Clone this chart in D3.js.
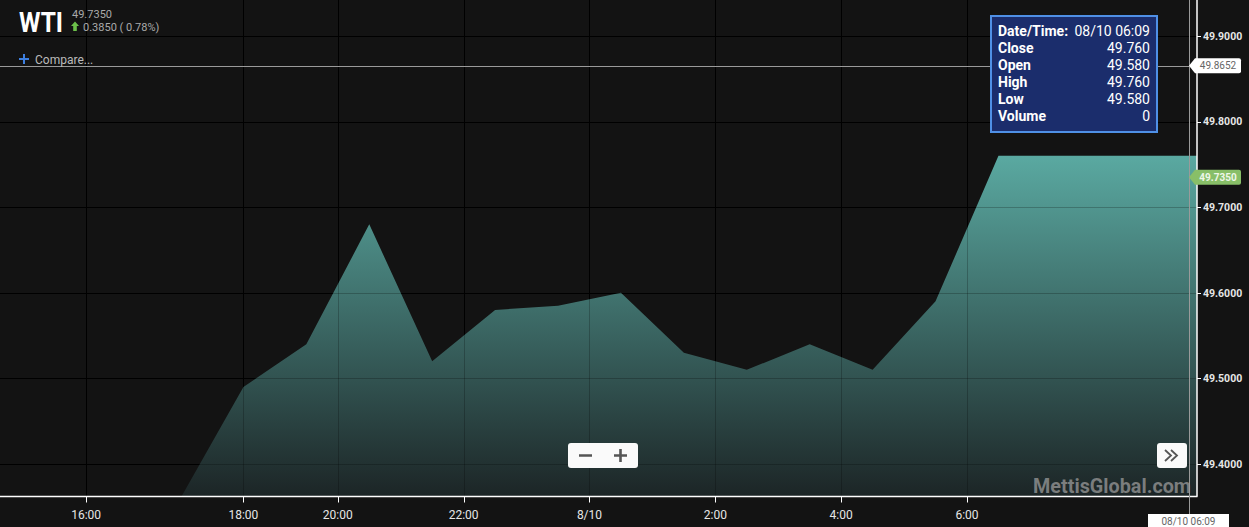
<!DOCTYPE html>
<html><head><meta charset="utf-8">
<script src="https://cdn.jsdelivr.net/npm/d3@7"></script>
<style>
html,body{margin:0;padding:0;background:#131313;}
svg{display:block;font-family:Roboto,"Liberation Sans",sans-serif;}
</style></head>
<body><svg id="c" width="1249" height="527"></svg>
<script>
// ---- data ----
const slots = [0,1,2,3,4,5,6,7,8,9,10,11,12,13,14,15,16,17];
const closeValues = [49.36,49.49,49.54,49.68,49.52,49.58,49.585,49.60,49.53,49.51,49.54,49.51,49.59,49.76,49.76,49.76,49.76,49.76];
const xTickSlots = [-1.5,1,2.5,4.5,6.5,8.5,10.5,12.5];
const xTickLabels = ["16:00","18:00","20:00","22:00","8/10","2:00","4:00","6:00"];
const yTicks = [49.4,49.5,49.6,49.7,49.8,49.9];
const symbol = "WTI";
const lastPrice = 49.7350;
const change = "0.3850 ( 0.78%)";
const crosshairPrice = 49.8652;
const crosshairSlot = 16.03;
const crosshairDate = "08/10 06:09";
const tipLabels = ["Date/Time:","Close","Open","High","Low","Volume"];
const tipValues = ["08/10 06:09","49.760","49.580","49.760","49.580","0"];

// ---- layout ----
const svg = d3.select("#c");
const PW = 1197, PB = 496.5;
const x = d3.scaleLinear().domain([0,1]).range([180.5,243.42]);
const y = d3.scaleLinear().domain([49.4,49.9]).range([464,36]);

const defs = svg.append("defs");
defs.append("clipPath").attr("id","plot").append("rect").attr("x",0).attr("y",0).attr("width",PW).attr("height",PB);
const g = defs.append("linearGradient").attr("id","ag").attr("gradientUnits","userSpaceOnUse")
  .attr("x1",0).attr("x2",0).attr("y1",y(d3.max(closeValues))).attr("y2",PB);
g.append("stop").attr("offset","0").attr("stop-color","#5aa9a1");
g.append("stop").attr("offset","1").attr("stop-color","#1c2526");

function grid(layer, color, op){
  layer.selectAll("line.v").data(xTickSlots).join("line").attr("class","v")
    .attr("x1",d=>Math.round(x(d))+0.5).attr("x2",d=>Math.round(x(d))+0.5).attr("y1",0).attr("y2",PB)
    .attr("stroke",color).attr("stroke-opacity",op);
  layer.selectAll("line.h").data(yTicks).join("line").attr("class","h")
    .attr("y1",d=>Math.round(y(d))+0.5).attr("y2",d=>Math.round(y(d))+0.5).attr("x1",0).attr("x2",PW)
    .attr("stroke",color).attr("stroke-opacity",op);
}
const plot = svg.append("g").attr("clip-path","url(#plot)");
grid(plot.append("g"),"#000",1);
const area = d3.area().x((d,i)=>x(slots[i])).y0(PB).y1(d=>y(d));
plot.append("path").datum(closeValues).attr("d",area).attr("fill","url(#ag)");
grid(plot.append("g"),"#000",0.22);

// watermark
svg.append("text").attr("x",1191).attr("y",493).attr("text-anchor","end")
  .attr("font-size",20).attr("font-weight","bold").attr("fill","#9a9a9a").attr("fill-opacity",0.75)
  .attr("textLength",158).attr("lengthAdjust","spacingAndGlyphs").text("MettisGlobal.com");

// plot border
svg.append("line").attr("x1",0).attr("x2",PW+0.5).attr("y1",PB).attr("y2",PB).attr("stroke","#fff").attr("stroke-width",1.5);
svg.append("line").attr("x1",PW).attr("x2",PW).attr("y1",0).attr("y2",PB).attr("stroke","#fff").attr("stroke-width",1.5);

// x axis
const xa = svg.append("g");
xa.selectAll("line").data(xTickSlots).join("line")
  .attr("x1",d=>Math.round(x(d))+0.5).attr("x2",d=>Math.round(x(d))+0.5).attr("y1",PB).attr("y2",PB+6).attr("stroke","#fff");
xa.selectAll("text").data(xTickSlots).join("text")
  .attr("x",d=>x(d)).attr("y",519).attr("text-anchor","middle").attr("font-size",12).attr("fill","#e6e6e6")
  .text((d,i)=>xTickLabels[i]);

// y axis
const ya = svg.append("g");
ya.selectAll("line").data(yTicks).join("line")
  .attr("x1",PW).attr("x2",PW+4).attr("y1",d=>Math.round(y(d))+0.5).attr("y2",d=>Math.round(y(d))+0.5).attr("stroke","#fff");
ya.selectAll("text").data(yTicks).join("text")
  .attr("x",1203).attr("y",d=>y(d)+3.8).attr("font-size",10.5).attr("font-weight","bold").attr("fill","#e6e6e6")
  .text(d=>d.toFixed(4));

// crosshair
const cx = Math.round(x(crosshairSlot))+0.5, cy = Math.round(y(crosshairPrice))+0.5;
svg.append("line").attr("x1",0).attr("x2",PW).attr("y1",cy).attr("y2",cy).attr("stroke","#9a9a9a");
svg.append("line").attr("x1",cx).attr("x2",cx).attr("y1",0).attr("y2",514).attr("stroke","#9a9a9a");

function priceTag(v, fill, tcolor, bold){
  const yy = y(v);
  svg.append("path").attr("d",`M1189,${yy} L1195,${yy-7.5} H1239 q2,0 2,2 V${yy+5.5} q0,2 -2,2 H1195 Z`).attr("fill",fill);
  svg.append("text").attr("x",1218).attr("y",yy+3.6).attr("text-anchor","middle").attr("font-size",10)
    .attr("font-weight",bold?"bold":"normal").attr("fill",tcolor).text(v.toFixed(4));
}
priceTag(crosshairPrice,"#ffffff","#666",false);
priceTag(lastPrice,"#88bf68","#eef7e8",true);

// date tag
svg.append("rect").attr("x",1148).attr("y",514).attr("width",81).attr("height",14).attr("fill","#fff");
svg.append("text").attr("x",1188.5).attr("y",524.5).attr("text-anchor","middle").attr("font-size",10).attr("fill","#666").text(crosshairDate);

// header
svg.append("text").attr("x",19).attr("y",32).attr("font-size",28).attr("font-weight","bold").attr("fill","#fff")
  .attr("textLength",44).attr("lengthAdjust","spacingAndGlyphs").text(symbol);
svg.append("text").attr("x",72).attr("y",18).attr("font-size",11).attr("fill","#aaa").text(lastPrice.toFixed(4));
svg.append("path").attr("d","M75,21.5 L79,26 H76.8 V31 H73.2 V26 H71 Z").attr("fill","#6cc04a");
svg.append("text").attr("x",83).attr("y",31).attr("font-size",11).attr("fill","#aaa").text(change);
svg.append("path").attr("d","M19,59 H29 M24,54 V64").attr("stroke","#3d7fe0").attr("stroke-width",2);
svg.append("text").attr("x",35).attr("y",63.5).attr("font-size",12).attr("fill","#bbb").text("Compare...");

// tooltip
svg.append("rect").attr("x",991).attr("y",16).attr("width",166).attr("height",116)
  .attr("fill","#1b2d6c").attr("stroke","#4f90e6").attr("stroke-width",2);
const tt = svg.append("g").attr("font-size",14).attr("fill","#fff");
tt.selectAll("text.l").data(tipLabels).join("text").attr("class","l")
  .attr("x",998).attr("y",(d,i)=>36+i*17).attr("font-weight","bold").text(d=>d);
tt.selectAll("text.v").data(tipValues).join("text").attr("class","v")
  .attr("x",1150).attr("y",(d,i)=>36+i*17).attr("text-anchor","end").text(d=>d);

// buttons
svg.append("rect").attr("x",568).attr("y",443).attr("width",70).attr("height",25).attr("rx",3).attr("fill","#fafafa");
svg.append("path").attr("d","M579,455.5 H592 M614,455.5 H627 M620.5,449 V462").attr("stroke","#555").attr("stroke-width",2.6);
svg.append("rect").attr("x",1157).attr("y",443).attr("width",30).attr("height",25).attr("rx",3).attr("fill","#fafafa");
svg.append("path").attr("d","M1165,450 L1171,455.5 L1165,461 M1171,450 L1177,455.5 L1171,461").attr("stroke","#555").attr("stroke-width",1.8).attr("fill","none");
</script></body></html>
